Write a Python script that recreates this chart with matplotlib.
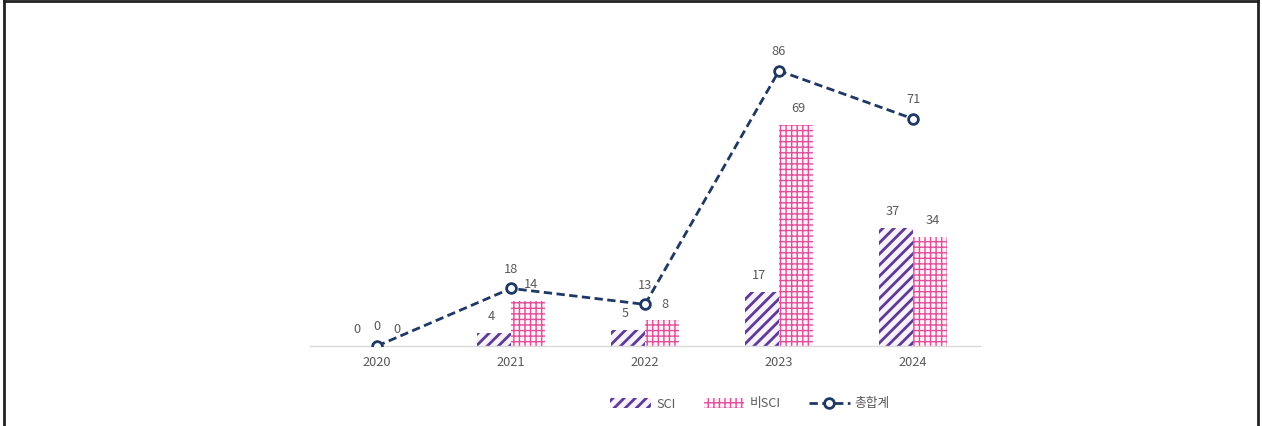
import matplotlib
matplotlib.use("Agg")
import matplotlib.pyplot as plt
import numpy as np
from matplotlib.lines import Line2D

plt.rcParams['font.family'] = ['Noto Sans CJK KR', 'DejaVu Sans']

years = ["2020", "2021", "2022", "2023", "2024"]
sci = [0, 4, 5, 17, 37]
non_sci = [0, 14, 8, 69, 34]
total = [0, 18, 13, 86, 71]
labels = ["SCI", "비SCI", "총합계"]

W, H = 1262, 426
fig = plt.figure(figsize=(W / 100, H / 100), dpi=100)
ax = fig.add_axes([310 / W, (H - 346) / H, 670 / W, 320 / H])

x = np.arange(len(years))
bw = 0.254
txt = '#595959'
purple = '#5E3A96'
pink = '#E0509A'
navy = '#1F3864'

plt.rcParams['hatch.linewidth'] = 2.0
b1 = ax.bar(x - bw / 2, sci, bw, facecolor='#F8F2FC', edgecolor=purple,
            hatch='///', linewidth=0)
plt.rcParams['hatch.linewidth'] = 1.0
b2 = ax.bar(x + bw / 2, non_sci, bw, facecolor='#FDF3F8', edgecolor=pink,
            hatch='+++', linewidth=0)
ln, = ax.plot(x, total, color=navy, linestyle=(0, (3, 1.6)), linewidth=2,
              marker='o', markersize=7, markerfacecolor='white',
              markeredgecolor=navy, markeredgewidth=2, zorder=5)

fs = 9.2
for xi, v in zip(x - bw / 2, sci):
    ax.annotate(str(v), (xi, v), xytext=(-2, 7), textcoords='offset points',
                ha='center', va='bottom', fontsize=fs, color=txt)
for xi, v in zip(x + bw / 2, non_sci):
    ax.annotate(str(v), (xi, v), xytext=(2, 7), textcoords='offset points',
                ha='center', va='bottom', fontsize=fs, color=txt)
for xi, v in zip(x, total):
    ax.annotate(str(v), (xi, v), xytext=(0, 9), textcoords='offset points',
                ha='center', va='bottom', fontsize=fs, color=txt)

ax.set_xlim(-0.5, 4.5)
ax.set_ylim(0, 100)
ax.set_xticks(x)
ax.set_xticklabels(years, fontsize=fs, color=txt)
ax.tick_params(axis='x', length=0, pad=7)
ax.set_yticks([])
for s in ['top', 'right', 'left']:
    ax.spines[s].set_visible(False)
ax.spines['bottom'].set_color('#D9D9D9')
ax.spines['bottom'].set_linewidth(1)

plt.rcParams['hatch.linewidth'] = 2.0
leg = fig.legend([b1, b2, ln], labels, loc='center', ncol=3,
                 bbox_to_anchor=(750 / W, 1 - 404 / H), frameon=False,
                 fontsize=9.2, handlelength=3.2, handleheight=0.9,
                 columnspacing=2.2, handletextpad=0.4, labelcolor=txt)
try:
    leg.legend_handles[1].set_hatch_linewidth(1.0)
except Exception:
    pass

# figure border (top, left, right)
fig.add_artist(Line2D([4 / W, 4 / W], [0, 1 - 1 / H], color='#222222', lw=2,
                      transform=fig.transFigure))
fig.add_artist(Line2D([4 / W, 1258 / W], [1 - 1 / H, 1 - 1 / H], color='#222222',
                      lw=2, transform=fig.transFigure))
fig.add_artist(Line2D([1258 / W, 1258 / W], [0, 1 - 1 / H], color='#222222',
                      lw=2, transform=fig.transFigure))

fig.savefig('out.png', dpi=100)
